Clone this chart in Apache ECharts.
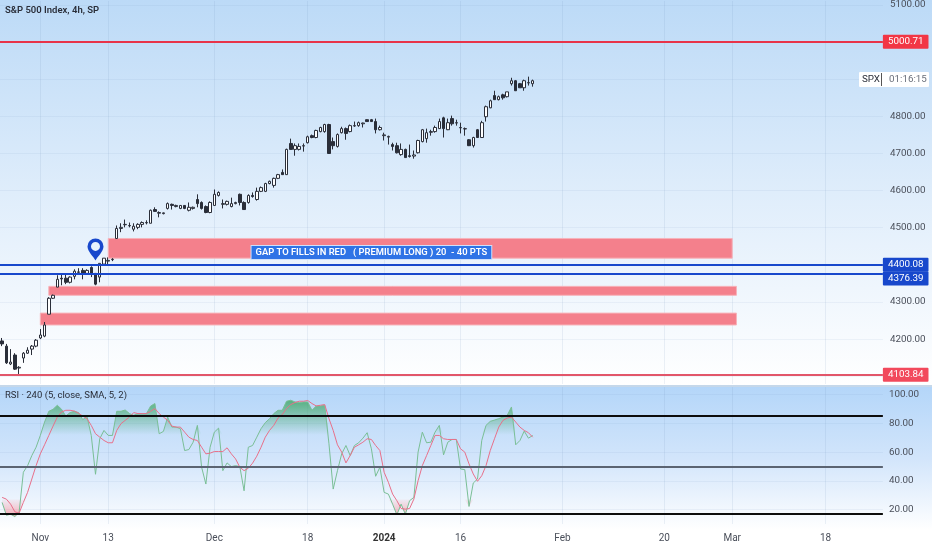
<!DOCTYPE html>
<html><head><meta charset="utf-8">
<style>html,body{margin:0;padding:0;background:#fff}#c{width:932px;height:550px}</style>
<script src="https://cdn.jsdelivr.net/npm/echarts@6/dist/echarts.min.js"></script>
</head><body><div id="c"></div>
<script>
const opens=[4195,4181,4133,4157,4122,4149,4162,4173,4181,4203,4208,4267,4310,4340,4364,4364,4353,4369,4381,4385,4377,4393,4377,4367,4402,4410,4414,4471,4498,4508,4505,4496,4501,4509,4513,4512,4549,4539,4538,4552,4563,4557,4552,4560,4547,4552,4576,4568,4557,4541,4560,4587,4563,4563,4557,4565,4590,4568,4568,4587,4576,4598,4598,4619,4614,4633,4649,4643,4727,4711,4711,4720,4729,4748,4743,4759,4759,4778,4732,4719,4756,4767,4759,4774,4775,4780,4791,4791,4786,4764,4748,4744,4724,4721,4697,4711,4694,4693,4702,4732,4740,4757,4759,4767,4796,4764,4794,4782,4769,4766,4737,4721,4764,4743,4799,4823,4856,4845,4858,4853,4888,4896,4888,4877,4890,4888];
const highs=[4203,4187,4173,4162,4127,4165,4178,4184,4200,4227,4246,4313,4320,4372,4375,4375,4369,4388,4391,4391,4388,4396,4377,4404,4418,4420,4418,4506,4512,4522,4514,4512,4512,4517,4520,4549,4555,4544,4541,4568,4565,4562,4561,4561,4568,4557,4590,4571,4560,4571,4603,4598,4576,4573,4581,4570,4592,4571,4590,4595,4608,4611,4621,4627,4635,4645,4657,4713,4740,4727,4727,4727,4748,4751,4764,4772,4780,4780,4743,4754,4772,4770,4778,4786,4786,4783,4792,4793,4794,4775,4756,4748,4729,4729,4727,4713,4724,4708,4737,4766,4767,4764,4775,4794,4799,4794,4802,4791,4783,4770,4739,4745,4766,4788,4829,4845,4869,4856,4861,4866,4904,4898,4890,4899,4907,4899];
const lows=[4181,4133,4130,4117,4106,4136,4160,4157,4178,4200,4205,4267,4308,4340,4345,4348,4350,4361,4375,4361,4375,4367,4345,4353,4399,4399,4410,4471,4488,4501,4501,4490,4496,4501,4509,4512,4544,4528,4536,4549,4549,4555,4550,4550,4544,4549,4555,4549,4539,4539,4560,4584,4552,4560,4555,4563,4560,4549,4565,4581,4573,4596,4596,4617,4608,4631,4643,4643,4711,4694,4708,4705,4727,4741,4741,4757,4756,4700,4711,4716,4754,4737,4757,4772,4772,4770,4785,4785,4754,4762,4735,4724,4708,4700,4694,4689,4689,4686,4700,4730,4729,4748,4756,4766,4743,4763,4775,4775,4754,4748,4720,4716,4743,4743,4786,4822,4845,4843,4845,4851,4883,4869,4877,4869,4883,4880];
const closes=[4187,4136,4138,4119,4124,4162,4170,4181,4197,4211,4238,4310,4318,4361,4362,4353,4367,4383,4380,4377,4385,4375,4348,4404,4418,4412,4415,4498,4501,4509,4506,4504,4509,4514,4514,4547,4544,4541,4540,4565,4560,4560,4560,4552,4555,4555,4565,4552,4541,4568,4590,4595,4565,4571,4565,4568,4568,4549,4587,4584,4598,4608,4619,4625,4633,4643,4643,4711,4711,4721,4719,4721,4745,4743,4762,4770,4778,4700,4721,4751,4767,4754,4775,4775,4783,4782,4786,4786,4764,4770,4750,4746,4719,4702,4711,4689,4692,4696,4735,4764,4756,4759,4770,4786,4767,4783,4780,4783,4770,4767,4721,4743,4743,4783,4826,4842,4845,4853,4850,4866,4896,4869,4877,4896,4891,4896];
const rsiValues=[25.0,16.1,16.8,15.2,18.0,46.0,50.6,57.6,63.4,71.6,80.9,88.4,89.8,92.6,89.8,85.1,87.5,88.4,87.5,82.6,84.9,71.6,44.6,69.3,75.1,71.6,71.6,88.4,88.4,89.3,86.8,85.6,86.8,86.8,86.8,92.1,93.8,72.8,74.4,84.4,77.4,77.4,76.3,61.1,61.8,66.9,78.6,49.5,37.8,63.4,73.9,76.7,47.1,52.5,49.9,50.6,49.9,33.1,63.4,64.6,70.4,76.3,80.5,83.3,86.8,89.1,89.1,95.4,96.1,94.9,94.5,94.9,94.9,89.1,92.1,92.1,92.6,65.8,34.3,47.1,58.8,64.6,57.6,64.6,66.5,69.7,73.5,62.3,43.2,49.5,32.0,30.8,23.8,16.4,23.8,16.8,26.2,28.5,60.0,73.9,66.5,66.9,73.9,78.6,58.1,66.9,68.8,68.8,48.3,47.8,22.2,38.5,41.3,68.1,78.6,81.4,82.3,83.3,84.4,85.6,91.4,65.1,68.1,74.6,69.7,71.6];
const smaValues=[28.5,27.3,23.8,18.5,17.5,25.0,32.0,41.3,50.6,58.8,65.1,71.6,78.1,84.4,87.9,89.1,89.1,88.6,87.0,85.1,83.3,78.6,72.8,70.4,68.1,66.5,66.5,75.1,79.8,82.1,84.4,87.5,86.8,86.8,86.8,88.4,90.3,86.8,84.4,82.1,78.1,77.4,77.4,73.9,70.4,68.8,68.1,63.4,58.8,59.3,60.4,60.4,60.4,63.0,58.8,55.3,49.5,47.1,48.8,52.3,57.2,63.4,70.4,75.1,78.6,83.7,86.1,90.3,93.1,94.5,95.4,95.4,95.9,93.8,92.1,92.6,93.1,83.3,75.1,65.1,60.0,52.5,57.6,63.4,65.1,66.9,69.3,68.8,64.6,61.1,46.0,39.0,30.8,26.2,20.8,20.3,20.8,27.3,40.1,50.6,57.6,64.6,71.6,71.6,69.3,68.8,68.8,68.8,62.3,60.0,51.8,44.8,39.7,43.6,50.6,61.1,69.3,77.4,82.1,83.7,84.4,80.9,77.4,75.1,73.5,70.4];
const tickBars=[9,25,50,72,90,108,132,156,172,194];
const tickLabels=['Nov','13','Dec','18','2024','16','Feb','20','Mar','18'];
const priceGridLevels=[4100,4200,4300,4400,4500,4600,4700,4800,4900,5000,5100];
const priceTickLabels=[4200,4300,4500,4600,4700,4800,5100];
const rsiTickLabels=[20,40,60,80,100];
const priceLevels=[5000.71,4400.08,4376.39,4103.84];
const rsiLevels=[85,50,17];
const gapZones=[{from:25,to:172,high:4471,low:4418},{from:11,to:173,high:4342,low:4318},{from:9,to:173,high:4270,low:4238}];
const annotationText='GAP TO FILLS IN RED   ( PREMIUM LONG ) 20  - 40 PTS';
const barSlots=208;

const FONT='Roboto, sans-serif';
const categories=Array.from({length:barSlots},(_,i)=>String(i));
const candle=opens.map((o,i)=>[o,closes[i],lows[i],highs[i]]);
const isTick=i=>tickBars.includes(i);
const tickText=v=>{const k=tickBars.indexOf(+v);if(k<0)return '';const t=tickLabels[k];return t==='2024'?'{y|2024}':t;};
const G=echarts.graphic.LinearGradient;
const vSplit={show:true,alignWithLabel:true,interval:(i)=>isTick(i),lineStyle:{color:'rgba(110,140,185,0.12)',width:1}};
const hSplit={show:true,lineStyle:{color:'rgba(110,140,185,0.09)',width:1}};
const levelColors={5000.71:'#e8344a',4400.08:'#1848cc',4376.39:'#1848cc',4103.84:'#e2566a'};
const tagColors={5000.71:'#f23645',4400.08:'#1848cc',4376.39:'#1848cc',4103.84:'#f2495c'};
const tagOffset={5000.71:0,4400.08:0,4376.39:5,4103.84:0};

const option={
  animation:false,
  backgroundColor:'#fff',
  textStyle:{fontFamily:FONT},
  grid:[
    {left:-1.125,width:884,top:0,height:384},
    {left:-1.125,width:884,top:387,height:137}
  ],
  xAxis:[
    {gridIndex:0,type:'category',data:categories,axisLine:{show:false},axisTick:{show:false},axisLabel:{show:false},splitLine:vSplit},
    {gridIndex:1,type:'category',data:categories,axisLine:{show:false},axisTick:{show:false},splitLine:vSplit,
     axisLabel:{show:true,interval:(i)=>isTick(i),formatter:tickText,margin:9,fontSize:10,color:'#4a4f5a',fontFamily:FONT,rich:{y:{fontWeight:'bold',fontSize:10,color:'#333',fontFamily:FONT}}}}
  ],
  yAxis:[
    {gridIndex:0,type:'value',position:'right',min:4079,max:5111,axisLine:{show:false},
     axisTick:{show:false,customValues:priceGridLevels},
     axisLabel:{customValues:priceTickLabels,align:'left',margin:7,fontSize:9.8,color:'#4a4f5a',fontFamily:FONT,formatter:v=>v.toFixed(2)},
     splitLine:hSplit},
    {gridIndex:1,type:'value',position:'right',min:10,max:105.3,axisLine:{show:false},
     axisTick:{show:false,customValues:rsiTickLabels},
     axisLabel:{customValues:rsiTickLabels,align:'left',margin:6,fontSize:9.8,color:'#4a4f5a',fontFamily:FONT,formatter:v=>v.toFixed(2)},
     splitLine:hSplit}
  ],
  graphic:[
    {type:'rect',z:-100,silent:true,shape:{x:0,y:0,width:932,height:385},style:{fill:new G(0,0,0,1,[{offset:0,color:'#bcdaf7'},{offset:0.5,color:'#dfedfb'},{offset:1,color:'#ffffff'}])}},
    {type:'rect',z:-100,silent:true,shape:{x:0,y:385,width:932,height:2},style:{fill:'#c6d8ea'}},
    {type:'rect',z:-100,silent:true,shape:{x:0,y:387,width:932,height:143},style:{fill:new G(0,0,0,1,[{offset:0,color:'#b4d6f9'},{offset:0.5,color:'#d2e5fb'},{offset:1,color:'#ffffff'}])}},
    {type:'text',z:50,left:5,top:6,style:{text:'S&P 500 Index, 4h, SP',font:'600 9.5px '+FONT,fill:'#2a2e39'}},
    {type:'text',z:50,left:5,top:391,style:{text:'RSI · 240 (5, close, SMA, 5, 2)',font:'9.5px '+FONT,fill:'#2a2e39'}},
    {type:'rect',z:50,shape:{x:859,y:72,width:70,height:15,r:1},style:{fill:'#ffffff'}},
    {type:'rect',z:51,shape:{x:881,y:73,width:1,height:13},style:{fill:'#555'}},
    {type:'text',z:52,left:862,top:75,style:{text:'SPX',font:'9.8px '+FONT,fill:'#2a2e39'}},
    {type:'text',z:52,left:889,top:75,style:{text:'01:16:15',font:'9.8px '+FONT,fill:'#6a6f7a'}}
  ],
  series:[
    {type:'candlestick',xAxisIndex:0,yAxisIndex:0,data:candle,barWidth:3,z:5,
     itemStyle:{color:'#ffffff',color0:'#2a2e39',borderColor:'#2a2e39',borderColor0:'#2a2e39',borderWidth:1},
     markArea:{silent:true,z:2,itemStyle:{color:'#f4808c',borderColor:'#f7b3ba',borderWidth:1},
       data:gapZones.map(g=>[{coord:[g.from,g.high]},{coord:[g.to,g.low]}])},
     markLine:{silent:true,symbol:'none',animation:false,z:6,
       data:priceLevels.map(v=>({yAxis:v,lineStyle:{color:levelColors[v],width:2,type:'solid'},
         label:{show:true,position:'end',distance:0,offset:[0,tagOffset[v]],formatter:()=>v.toFixed(2),color:'#fff',fontSize:9.8,fontFamily:FONT,backgroundColor:tagColors[v],padding:[2,5,2,5],borderRadius:1}}))},
     markPoint:{silent:true,animation:false,z:8,
       data:[
        {coord:[22,4412],symbol:'path://M8 0A8 8 0 0 1 16 8C16 13 10 18 8 22C6 18 0 13 0 8A8 8 0 0 1 8 0ZM8 3.5A4.5 4.5 0 0 0 8 12.5A4.5 4.5 0 0 0 8 3.5Z',symbolSize:[16,22],symbolOffset:[0,-11],itemStyle:{color:'#1848cc'},label:{show:false}},
        {coord:[87,4433],symbol:'rect',symbolSize:[0,0],itemStyle:{color:'transparent'},
         label:{show:true,position:'inside',formatter:annotationText,color:'#fff',fontSize:9.4,fontWeight:600,fontFamily:FONT,backgroundColor:'#2f73e6',borderColor:'#cfe0fa',borderWidth:1,padding:[2,4,2,4]}}
       ]}
    },
    {type:'line',xAxisIndex:1,yAxisIndex:1,data:rsiValues.map(v=>Math.max(v,72)),symbol:'none',silent:true,z:1,lineStyle:{width:0},
     areaStyle:{origin:72,opacity:1,color:new G(0,395,0,435,[{offset:0,color:'rgba(60,165,95,0.9)'},{offset:1,color:'rgba(60,165,95,0)'}],true)}},
    {type:'line',xAxisIndex:1,yAxisIndex:1,data:rsiValues.map(v=>Math.min(v,27)),symbol:'none',silent:true,z:1,lineStyle:{width:0},
     areaStyle:{origin:27,opacity:1,color:new G(0,497,0,516,[{offset:0,color:'rgba(242,100,115,0)'},{offset:1,color:'rgba(242,100,115,0.5)'}],true)}},
    {type:'line',xAxisIndex:1,yAxisIndex:1,data:rsiValues,symbol:'none',silent:true,z:3,lineStyle:{color:'#7abf96',width:1}},
    {type:'line',xAxisIndex:1,yAxisIndex:1,data:smaValues,symbol:'none',silent:true,z:4,lineStyle:{color:'#e8708a',width:1},
     markLine:{silent:true,symbol:'none',animation:false,z:5,label:{show:false},
       data:rsiLevels.map(v=>({yAxis:v,lineStyle:{color:v===50?'#5b6472':'#0c0c0c',width:2,type:'solid'}}))}}
  ]
};
const chart=echarts.init(document.getElementById('c'),null,{renderer:'canvas'});
chart.setOption(option);
</script></body></html>
